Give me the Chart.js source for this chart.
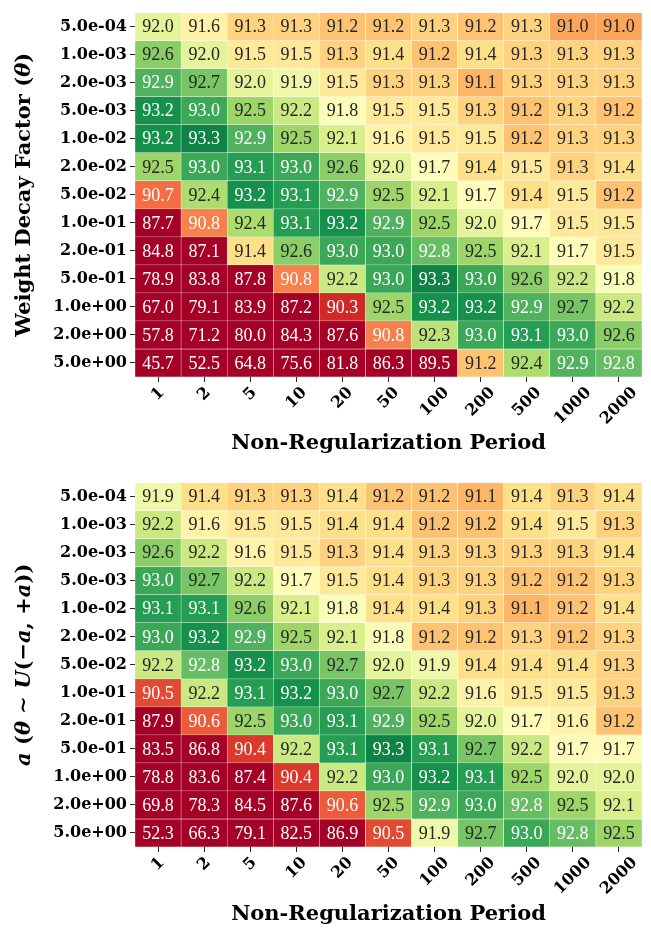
<!DOCTYPE html>
<html>
<head>
<meta charset="utf-8">
<title>Heatmaps</title>
<script src="https://cdn.jsdelivr.net/npm/chart.js@4.4.1/dist/chart.umd.min.js"></script>
<style>
  html, body { margin: 0; padding: 0; background: #fff; }
  canvas { display: block; }
</style>
</head>
<body>
<canvas id="thetaChart" width="651" height="470"></canvas>
<canvas id="rangeChart" width="651" height="462"></canvas>
<script>
// Column / row categories
const periods = ['1', '2', '5', '10', '20', '50', '100', '200', '500', '1000', '2000'];
const decayLabels = ['5.0e-04', '1.0e-03', '2.0e-03', '5.0e-03', '1.0e-02', '2.0e-02', '5.0e-02',
                     '1.0e-01', '2.0e-01', '5.0e-01', '1.0e+00', '2.0e+00', '5.0e+00'];

// Accuracy, fixed weight decay factor (top panel)
const thetaAcc = [
  [92.0, 91.6, 91.3, 91.3, 91.2, 91.2, 91.3, 91.2, 91.3, 91.0, 91.0],
  [92.6, 92.0, 91.5, 91.5, 91.3, 91.4, 91.2, 91.4, 91.3, 91.3, 91.3],
  [92.9, 92.7, 92.0, 91.9, 91.5, 91.3, 91.3, 91.1, 91.3, 91.3, 91.3],
  [93.2, 93.0, 92.5, 92.2, 91.8, 91.5, 91.5, 91.3, 91.2, 91.3, 91.2],
  [93.2, 93.3, 92.9, 92.5, 92.1, 91.6, 91.5, 91.5, 91.2, 91.3, 91.3],
  [92.5, 93.0, 93.1, 93.0, 92.6, 92.0, 91.7, 91.4, 91.5, 91.3, 91.4],
  [90.7, 92.4, 93.2, 93.1, 92.9, 92.5, 92.1, 91.7, 91.4, 91.5, 91.2],
  [87.7, 90.8, 92.4, 93.1, 93.2, 92.9, 92.5, 92.0, 91.7, 91.5, 91.5],
  [84.8, 87.1, 91.4, 92.6, 93.0, 93.0, 92.8, 92.5, 92.1, 91.7, 91.5],
  [78.9, 83.8, 87.8, 90.8, 92.2, 93.0, 93.3, 93.0, 92.6, 92.2, 91.8],
  [67.0, 79.1, 83.9, 87.2, 90.3, 92.5, 93.2, 93.2, 92.9, 92.7, 92.2],
  [57.8, 71.2, 80.0, 84.3, 87.6, 90.8, 92.3, 93.0, 93.1, 93.0, 92.6],
  [45.7, 52.5, 64.8, 75.6, 81.8, 86.3, 89.5, 91.2, 92.4, 92.9, 92.8]
];

// Accuracy, uniform random range a (bottom panel)
const rangeAcc = [
  [91.9, 91.4, 91.3, 91.3, 91.4, 91.2, 91.2, 91.1, 91.4, 91.3, 91.4],
  [92.2, 91.6, 91.5, 91.5, 91.4, 91.4, 91.2, 91.2, 91.4, 91.5, 91.3],
  [92.6, 92.2, 91.6, 91.5, 91.3, 91.4, 91.3, 91.3, 91.3, 91.3, 91.4],
  [93.0, 92.7, 92.2, 91.7, 91.5, 91.4, 91.3, 91.3, 91.2, 91.2, 91.3],
  [93.1, 93.1, 92.6, 92.1, 91.8, 91.4, 91.4, 91.3, 91.1, 91.2, 91.4],
  [93.0, 93.2, 92.9, 92.5, 92.1, 91.8, 91.2, 91.2, 91.3, 91.2, 91.3],
  [92.2, 92.8, 93.2, 93.0, 92.7, 92.0, 91.9, 91.4, 91.4, 91.4, 91.3],
  [90.5, 92.2, 93.1, 93.2, 93.0, 92.7, 92.2, 91.6, 91.5, 91.5, 91.3],
  [87.9, 90.6, 92.5, 93.0, 93.1, 92.9, 92.5, 92.0, 91.7, 91.6, 91.2],
  [83.5, 86.8, 90.4, 92.2, 93.1, 93.3, 93.1, 92.7, 92.2, 91.7, 91.7],
  [78.8, 83.6, 87.4, 90.4, 92.2, 93.0, 93.2, 93.1, 92.5, 92.0, 92.0],
  [69.8, 78.3, 84.5, 87.6, 90.6, 92.5, 92.9, 93.0, 92.8, 92.5, 92.1],
  [52.3, 66.3, 79.1, 82.5, 86.9, 90.5, 91.9, 92.7, 93.0, 92.8, 92.5]
];

const xTitle = 'Non-Regularization Period';
// y titles as [text, style] runs (b = bold upright, i = bold italic)
const thetaTitle = [['Weight Decay Factor (', 'b'], ['θ', 'i'], [')', 'b']];
const rangeTitle = [['a', 'i'], [' (', 'b'], ['θ', 'i'], [' ∼ ', 'b'], ['U', 'i'], ['(−', 'b'],
                    ['a', 'i'], [', +', 'b'], ['a', 'i'], ['))', 'b']];

const colorMin = 90.0;
const colorMax = 93.5;
const rdylgn = ['#a50026', '#d73027', '#f46d43', '#fdae61', '#fee08b', '#ffffbf',
                '#d9ef8b', '#a6d96a', '#66bd63', '#1a9850', '#006837'];

function hexToRgb(h) {
    return [1, 3, 5].map(i => parseInt(h.slice(i, i + 2), 16));
}

function cellRgb(v) {
    let t = (v - colorMin) / (colorMax - colorMin);
    t = Math.min(1, Math.max(0, t));
    const pos = t * 10;
    const i = Math.min(9, Math.floor(pos));
    const f = pos - i;
    const a = hexToRgb(rdylgn[i]);
    const b = hexToRgb(rdylgn[i + 1]);
    return a.map((c, k) => Math.round(c + (b[k] - c) * f));
}

function cellColor(v) {
    const c = cellRgb(v);
    return `rgb(${c[0]}, ${c[1]}, ${c[2]})`;
}

// same rule seaborn uses for annotation colour
function textColor(v) {
    const lin = cellRgb(v).map(c => {
        c = c / 255;
        return c <= 0.03928 ? c / 12.92 : Math.pow((c + 0.055) / 1.055, 2.4);
    });
    const lum = 0.2126 * lin[0] + 0.7152 * lin[1] + 0.0722 * lin[2];
    return lum > 0.408 ? '#262626' : '#ffffff';
}

function buildDatasets(values) {
    return values.map((row, r) => ({
        label: decayLabels[r],
        data: row.map(() => [r, r + 1]),
        accuracies: row,
        backgroundColor: row.map(cellColor),
        borderColor: '#ffffff',
        borderWidth: 0.5,
        borderSkipped: false,
        grouped: false,
        barPercentage: 1,
        categoryPercentage: 1
    }));
}

// Numbers inside cells
const cellLabels = {
    id: 'cellLabels',
    afterDatasetsDraw(chart) {
        const ctx = chart.ctx;
        ctx.save();
        ctx.font = '18px "Liberation Serif", "Times New Roman", serif';
        ctx.textAlign = 'center';
        ctx.textBaseline = 'middle';
        chart.data.datasets.forEach((ds, r) => {
            chart.getDatasetMeta(r).data.forEach((bar, c) => {
                const v = ds.accuracies[c];
                const p = bar.getCenterPoint();
                ctx.fillStyle = textColor(v);
                ctx.fillText(v.toFixed(1), p.x, p.y + 1);
            });
        });
        ctx.restore();
    }
};

// 45 degree x tick labels, centred under the tick like matplotlib
const rotatedTicks = {
    id: 'rotatedTicks',
    afterDraw(chart) {
        const scale = chart.scales.x;
        const ctx = chart.ctx;
        ctx.save();
        ctx.font = 'bold 16px "DejaVu Serif", serif';
        ctx.fillStyle = '#000';
        ctx.textAlign = 'center';
        ctx.textBaseline = 'middle';
        scale.ticks.forEach((t, i) => {
            const label = periods[i];
            const w = ctx.measureText(label).width;
            const box = (w + 12) * Math.SQRT1_2;
            const px = scale.getPixelForTick(i);
            const py = chart.chartArea.bottom + 9 + box / 2;
            ctx.save();
            ctx.translate(px, py);
            ctx.rotate(-Math.PI / 4);
            ctx.fillText(label, 0, 0);
            ctx.restore();
        });
        ctx.restore();
    }
};

// Rotated y title with mixed upright / italic runs
const yTitle = {
    id: 'yTitle',
    afterDraw(chart, args, opts) {
        const ctx = chart.ctx;
        const fonts = { b: 'bold 21px "DejaVu Serif", serif', i: 'italic bold 21px "DejaVu Serif", serif' };
        ctx.save();
        let total = 0;
        opts.runs.forEach(([text, style]) => {
            ctx.font = fonts[style];
            total += ctx.measureText(text).width;
        });
        const cy = (chart.chartArea.top + chart.chartArea.bottom) / 2;
        ctx.translate(opts.x, cy);
        ctx.rotate(-Math.PI / 2);
        ctx.textBaseline = 'middle';
        ctx.textAlign = 'left';
        ctx.fillStyle = '#000';
        let pos = -total / 2;
        opts.runs.forEach(([text, style]) => {
            ctx.font = fonts[style];
            ctx.fillText(text, pos, 0);
            pos += ctx.measureText(text).width;
        });
        ctx.restore();
    }
};

function makeChart(id, values, runs, xAxisHeight, titlePad) {
    const tickGrid = {
        display: true,
        drawOnChartArea: false,
        drawTicks: true,
        tickLength: 5,
        offset: false,
        color: '#262626',
        lineWidth: 1
    };
    return new Chart(document.getElementById(id), {
        type: 'bar',
        data: { labels: periods, datasets: buildDatasets(values) },
        options: {
            responsive: false,
            animation: false,
            devicePixelRatio: 1,
            events: [],
            layout: { padding: { left: 0, right: 9, top: 0, bottom: 0 } },
            plugins: {
                legend: { display: false },
                tooltip: { enabled: false },
                yTitle: { runs: runs, x: 25 }
            },
            scales: {
                x: {
                    type: 'category',
                    border: { display: false },
                    grid: tickGrid,
                    ticks: { display: false },
                    title: {
                        display: true,
                        text: xTitle,
                        color: '#000',
                        font: { family: 'DejaVu Serif', size: 21, weight: 'bold' },
                        padding: { top: 0, bottom: titlePad }
                    },
                    afterFit: s => { s.height = xAxisHeight; }
                },
                y: {
                    type: 'linear',
                    min: 0,
                    max: decayLabels.length,
                    reverse: true,
                    border: { display: false },
                    grid: tickGrid,
                    afterBuildTicks: s => {
                        s.ticks = decayLabels.map((_, i) => ({ value: i + 0.5 }));
                    },
                    ticks: {
                        autoSkip: false,
                        padding: 3,
                        color: '#000',
                        font: { family: 'DejaVu Serif', size: 16, weight: 'bold' },
                        callback: (v, i) => decayLabels[i]
                    },
                    afterFit: s => { s.width = 135; }
                }
            }
        },
        plugins: [cellLabels, rotatedTicks, yTitle]
    });
}

makeChart('thetaChart', thetaAcc, thetaTitle, 93, 14);
makeChart('rangeChart', rangeAcc, rangeTitle, 85, 5);
</script>
</body>
</html>
